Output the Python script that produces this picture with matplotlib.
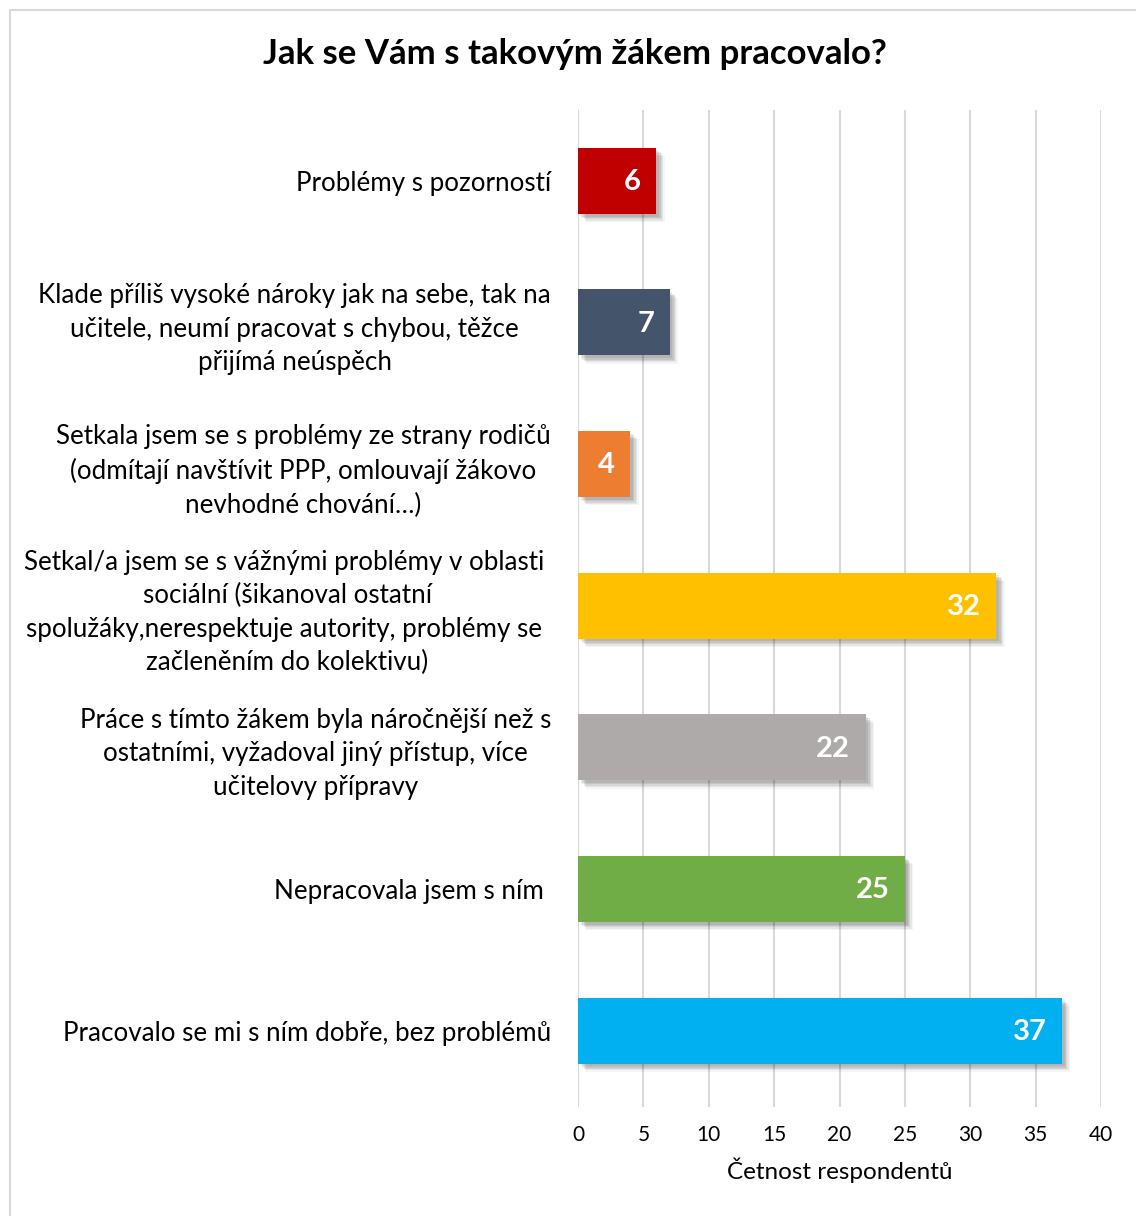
import matplotlib.pyplot as plt
import matplotlib.patheffects as pe
from matplotlib.patches import Rectangle

plt.rcParams['font.family'] = ['Lato', 'DejaVu Sans']

# Odpovědi (shora dolů) a počty respondentů
odpovedi = [
    'Problémy s pozorností',
    'Klade příliš vysoké nároky jak na sebe, tak na\nučitele, neumí pracovat s chybou, těžce\npřijímá neúspěch',
    'Setkala jsem se s problémy ze strany rodičů\n(odmítají navštívit PPP, omlouvají žákovo\nnevhodné chování…)',
    'Setkal/a jsem se s vážnými problémy v oblasti \nsociální (šikanoval ostatní\nspolužáky,nerespektuje autority, problémy se \nzačleněním do kolektivu)',
    'Práce s tímto žákem byla náročnější než s\nostatními, vyžadoval jiný přístup, více\nučitelovy přípravy',
    'Nepracovala jsem s ním ',
    'Pracovalo se mi s ním dobře, bez problémů',
]
cetnosti = [6, 7, 4, 32, 22, 25, 37]
barvy = ['#C00000', '#44546A', '#ED7D31', '#FFC000', '#AEAAAA', '#70AD47', '#00B0F0']

fig = plt.figure(figsize=(11.36, 12.16), dpi=100)
ax = fig.add_axes([578 / 1136, 1 - 1107 / 1216, 523 / 1136, 997 / 1216])

# rámeček grafu
fig.patches.append(Rectangle((10 / 1136, -0.1), 1.2, 1 - 10 / 1216 + 0.1,
                             transform=fig.transFigure, fill=False,
                             edgecolor='#D9D9D9', linewidth=1.5))

pozice = list(range(len(odpovedi)))[::-1]
stin = [pe.SimplePatchShadow(offset=(o, -o), shadow_rgbFace='black', alpha=a)
        for o, a in [(6, 0.04), (5, 0.06), (4, 0.07), (3, 0.08), (2, 0.08)]]
bars = ax.barh(pozice, cetnosti, height=0.466, color=barvy, zorder=3)
for b in bars:
    b.set_path_effects(stin + [pe.Normal()])

for p, v in zip(pozice, cetnosti):
    ax.annotate(str(v), (v, p), xytext=(-11, -1), textcoords='offset points',
                ha='right', va='center', color='white', fontsize=21,
                fontweight='bold', zorder=4)

ax.set_xlim(0, 40)
ax.set_ylim(-0.54, 6.5)
ax.set_xticks(range(0, 41, 5))
ax.set_yticks(pozice)
ax.set_yticklabels(odpovedi, fontsize=18.7, linespacing=1.42)
for t in ax.get_yticklabels():
    t.set_multialignment('center')
ax.tick_params(axis='y', length=0, pad=19.5)
ax.tick_params(axis='x', length=0, labelsize=15, pad=13)
ax.grid(axis='x', color='#D9D9D9', linewidth=1.5, zorder=0)
ax.set_axisbelow(True)
for s in ax.spines.values():
    s.set_visible(False)

ax.set_xlabel('Četnost respondentů', fontsize=17.5, labelpad=9)
fig.text(575 / 1136, 1 - 54 / 1216, 'Jak se Vám s takovým žákem pracovalo?',
         ha='center', va='center', fontsize=25, fontweight='bold')

fig.savefig('out.png', dpi=100)
